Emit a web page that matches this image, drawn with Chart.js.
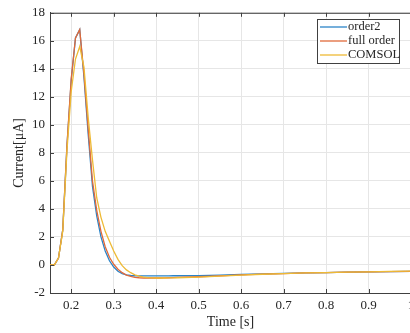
<!DOCTYPE html>
<html><head><meta charset="utf-8">
<script src="https://cdn.jsdelivr.net/npm/chart.js@4/dist/chart.umd.min.js"></script>
<style>html,body{margin:0;padding:0;overflow:hidden;background:#fff}canvas{display:block}</style>
</head><body>
<canvas id="c" width="430" height="333" style="width:430px;height:333px"></canvas>
<script>
const times = [0.15,0.16,0.17,0.18,0.19,0.20,0.21,0.22,0.23,0.24,
  0.25,0.26,0.27,0.28,0.29,0.30,0.31,0.32,0.33,0.34,
  0.35,0.36,0.37,0.38,0.39,0.40,0.41,0.42,0.43,0.44,0.45,
  0.50,0.55,0.60,0.65,0.70,0.75,0.80,0.85,0.90,0.95,1.00];
const order2 = [0,0,0.5,2.5,8.5,13.2,16.2,16.8,13.4,9.3,
  5.6,3.5,2.0,1.0,0.3,-0.15,-0.45,-0.62,-0.71,-0.75,
  -0.77,-0.78,-0.78,-0.78,-0.78,-0.78,-0.78,-0.78,-0.78,-0.77,-0.77,
  -0.76,-0.72,-0.68,-0.64,-0.60,-0.57,-0.54,-0.51,-0.49,-0.47,-0.45];
const fullOrder = [0,0,0.5,2.5,8.6,13.3,16.2,16.8,13.6,9.7,
  6.0,3.9,2.4,1.3,0.55,0.05,-0.3,-0.55,-0.72,-0.82,
  -0.88,-0.91,-0.93,-0.93,-0.93,-0.93,-0.93,-0.92,-0.91,-0.90,-0.89,
  -0.84,-0.78,-0.70,-0.65,-0.61,-0.57,-0.54,-0.51,-0.49,-0.47,-0.45];
const comsol = [0,0,0.5,2.4,8.2,12.4,14.7,15.6,14.1,10.5,
  7.5,4.8,3.4,2.4,1.7,1.0,0.4,-0.05,-0.35,-0.55,
  -0.70,-0.80,-0.86,-0.90,-0.92,-0.93,-0.93,-0.93,-0.92,-0.92,-0.91,
  -0.86,-0.80,-0.72,-0.66,-0.61,-0.57,-0.54,-0.51,-0.49,-0.46,-0.44];
const seriesNames = ['order2','full order','COMSOL'];
const seriesColors = ['#2a84c8','#e06a3a','#eeba35'];
const xTicks = [0.2,0.3,0.4,0.5,0.6,0.7,0.8,0.9,1.0];
const yTicks = [-2,0,2,4,6,8,10,12,14,16,18];
const xTitle = 'Time [s]';
const yTitle = 'Current[\u03bcA]';

const FONT = "'Liberation Serif', 'Times New Roman', serif";
const AX = '#404040';

function pts(vals){ return times.map((t,i)=>({x:t,y:vals[i]})); }
const allVals = [order2, fullOrder, comsol];

const frame = {
  id:'frame',
  afterDraw(chart){
    const {ctx, chartArea:a, scales:{x,y}} = chart;
    ctx.save();
    ctx.strokeStyle = AX; ctx.lineWidth = 1;
    ctx.beginPath();
    ctx.moveTo(a.left, a.top+0.5); ctx.lineTo(a.right, a.top+0.5);
    xTicks.forEach(v=>{
      const px = Math.round(x.getPixelForValue(v))+0.5;
      ctx.moveTo(px, a.bottom); ctx.lineTo(px, a.bottom-4);
      ctx.moveTo(px, a.top); ctx.lineTo(px, a.top+4);
    });
    yTicks.forEach(v=>{
      const py = Math.round(y.getPixelForValue(v))+0.5;
      ctx.moveTo(a.left, py); ctx.lineTo(a.left+4, py);
    });
    ctx.stroke();
    // legend
    const lx=317, ly=19, lw=82, lh=44;
    ctx.fillStyle='#fff'; ctx.fillRect(lx,ly,lw,lh);
    ctx.strokeStyle=AX; ctx.strokeRect(lx+0.5,ly+0.5,lw,lh);
    ctx.font = "12.5px "+FONT; ctx.textBaseline='middle'; ctx.textAlign='left';
    seriesNames.forEach((name,i)=>{
      const cy = ly + 8 + i*14;
      ctx.strokeStyle = seriesColors[i]; ctx.lineWidth=1.3;
      ctx.beginPath(); ctx.moveTo(lx+3, cy); ctx.lineTo(lx+30, cy); ctx.stroke();
      ctx.fillStyle = '#262626';
      ctx.fillText(name, lx+31, cy);
    });
    ctx.restore();
  }
};

new Chart(document.getElementById('c'), {
  type:'line',
  data:{ datasets: allVals.map((v,i)=>({
    label: seriesNames[i], data: pts(v), borderColor: seriesColors[i],
    borderWidth:1.3, pointRadius:0, tension:0, fill:false, order: 3-i
  }))},
  options:{
    responsive:false, animation:false, devicePixelRatio:1,
    layout:{padding:{top:7,right:19,left:0,bottom:0}},
    plugins:{legend:{display:false}, tooltip:{enabled:false}},
    scales:{
      x:{type:'linear', min:0.15, max:1.0,
        afterBuildTicks(s){ s.ticks = xTicks.map(v=>({value:v})); },
        afterFit(s){ s.height = 40; },
        ticks:{color:'#262626', font:{family:FONT,size:13}, padding:5,
          callback:(v)=> (Math.abs(v-1)<1e-9 ? '1' : v.toFixed(1)), maxRotation:0},
        grid:{color:'#e6e6e6', drawTicks:false},
        border:{display:true,color:AX},
        title:{display:true,text:xTitle,color:'#262626',font:{family:FONT,size:14},padding:{top:0,bottom:2}}
      },
      y:{min:-2,max:18,
        afterBuildTicks(s){ s.ticks = yTicks.map(v=>({value:v})); },
        afterFit(s){ s.width = 50; },
        ticks:{color:'#262626', font:{family:FONT,size:13}, padding:5},
        grid:{color:'#e6e6e6', drawTicks:false},
        border:{display:true,color:AX},
        title:{display:true,text:yTitle,color:'#262626',font:{family:FONT,size:14},padding:{top:11,bottom:0}}
      }
    }
  },
  plugins:[frame]
});
</script>
</body></html>
